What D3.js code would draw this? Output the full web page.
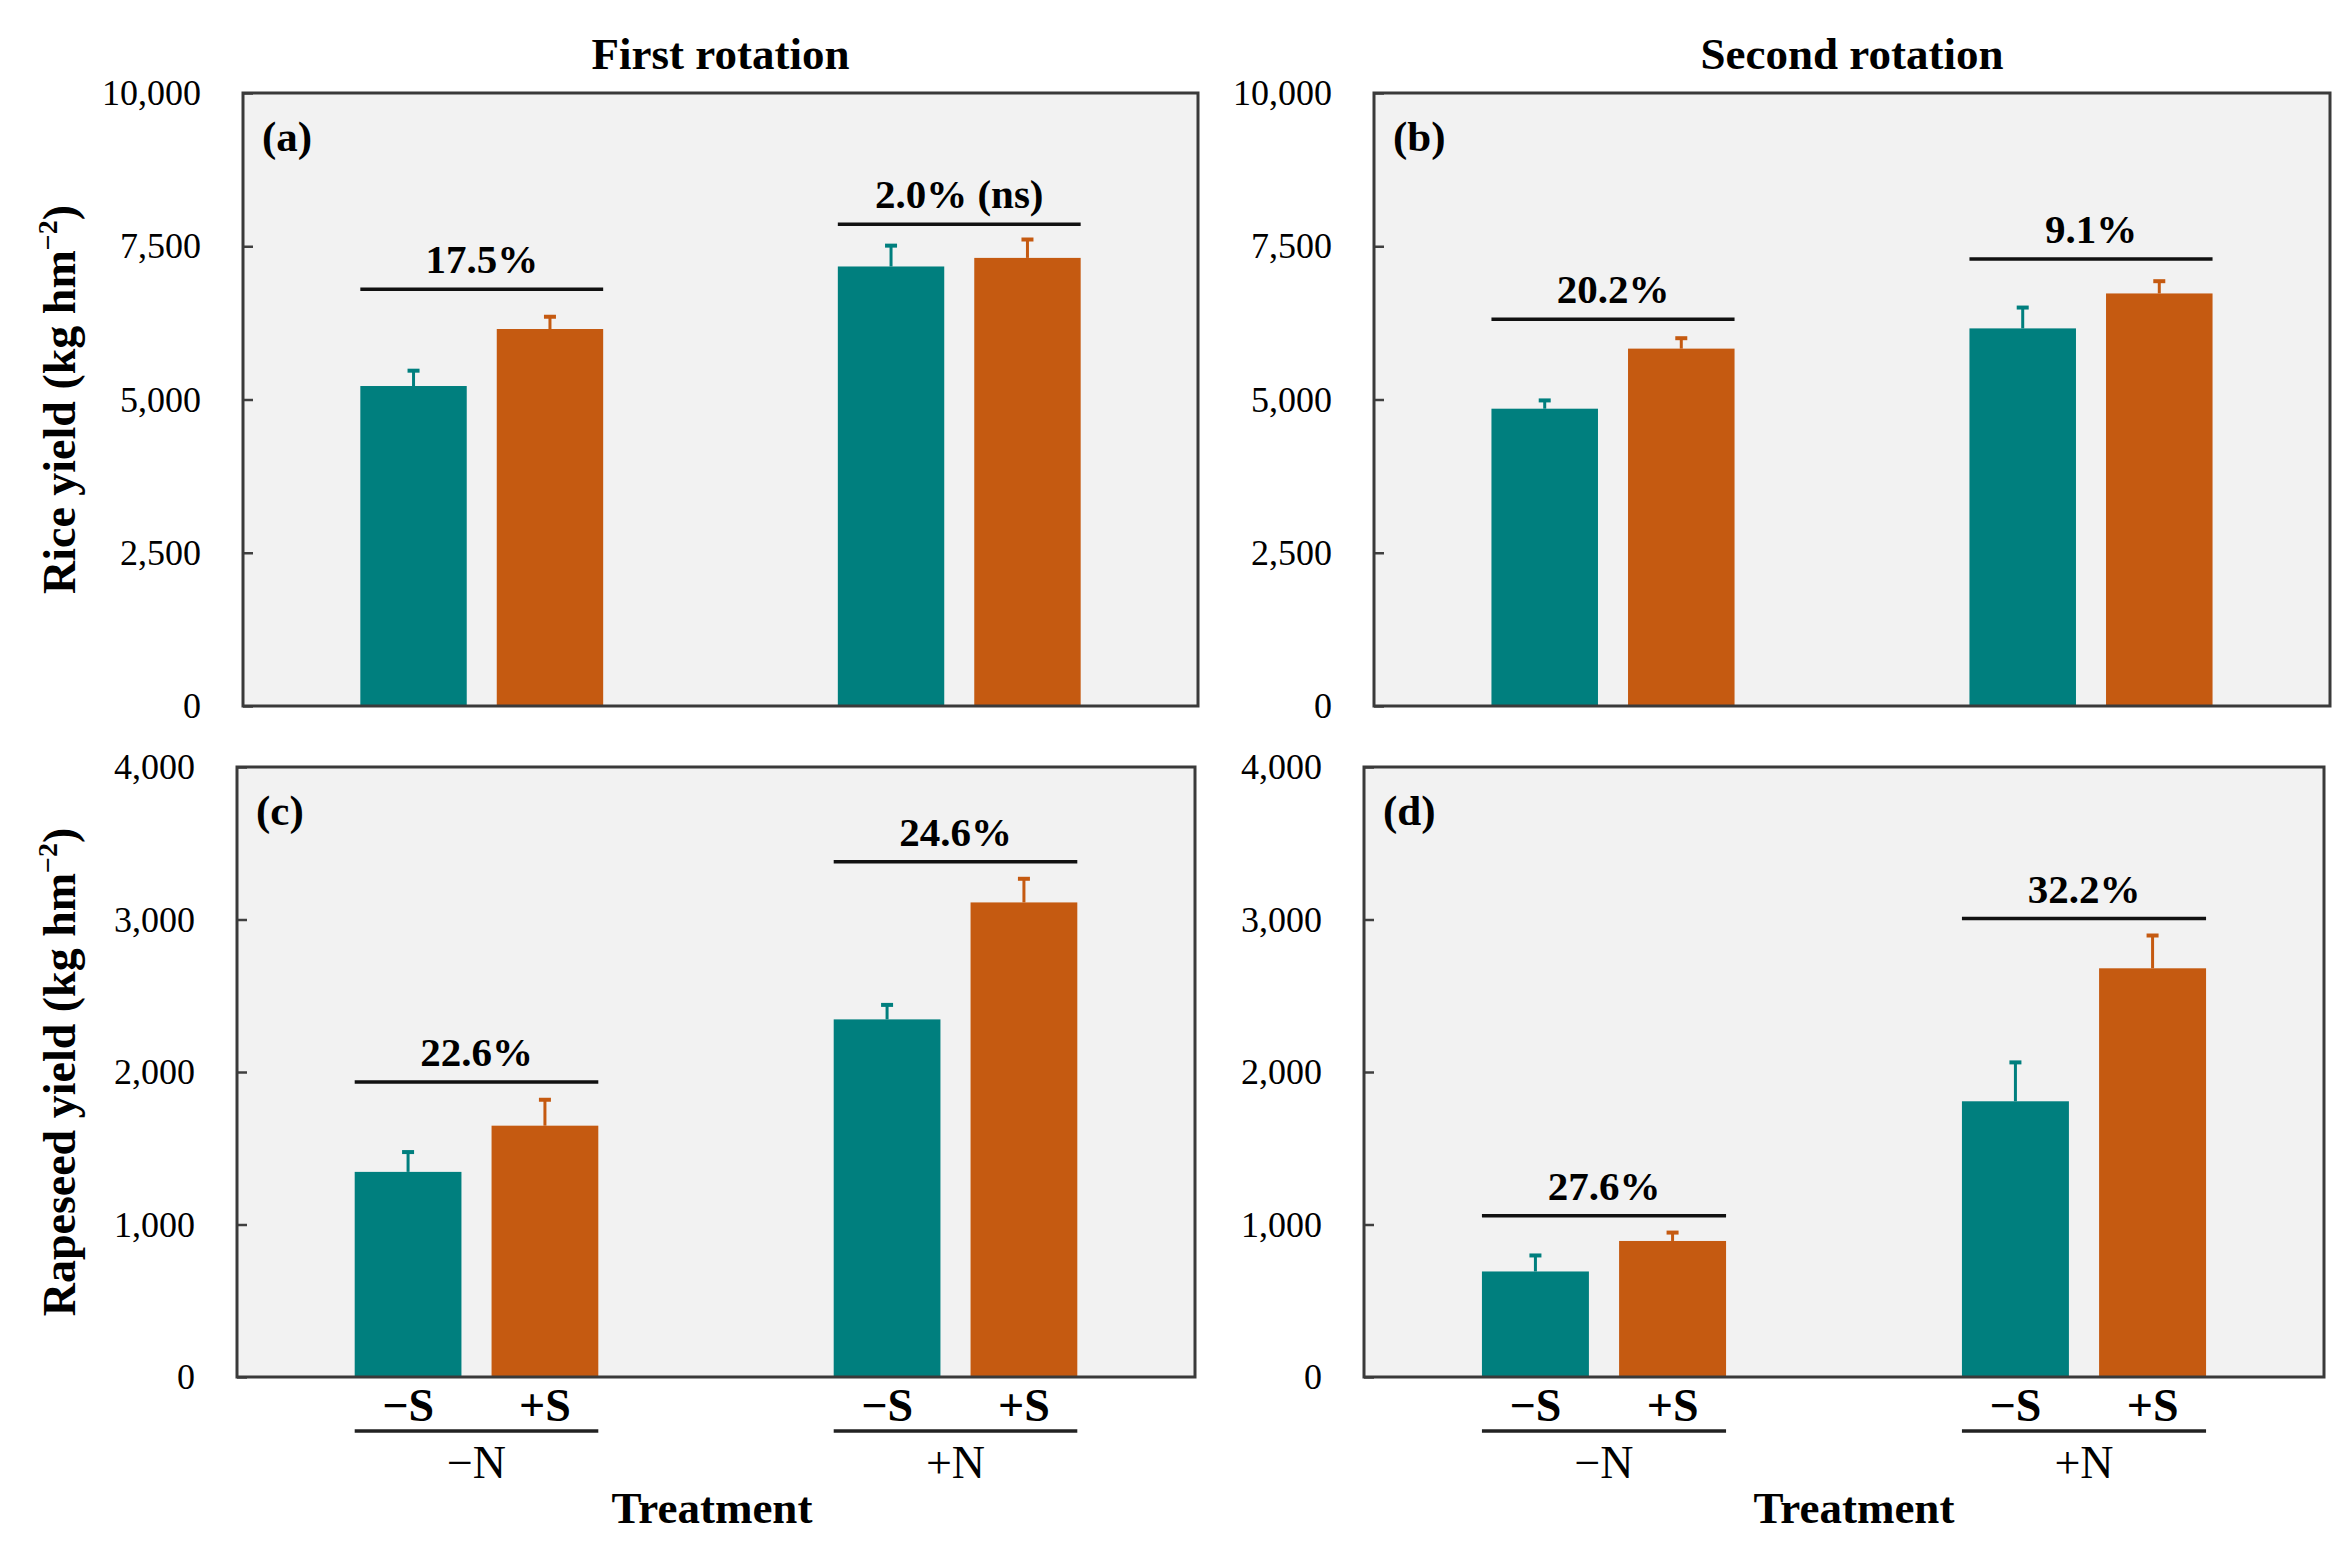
<!DOCTYPE html>
<html>
<head>
<meta charset="utf-8">
<script src="https://cdn.jsdelivr.net/npm/d3@7"></script>
<style>
  body { margin: 0; background: #fff; }
  text { font-family: "Liberation Serif", "Times New Roman", serif; fill: #000; }
</style>
</head>
<body>
<div id="chart"></div>
<script>
var width = 2351, height = 1555;

// data
var nLevels = ["\u2212N", "+N"];
var sLevels = ["\u2212S", "+S"];

var riceR1 = [5220, 6150, 7170, 7310];
var riceR1Err = [250, 200, 340, 300];
var riceR1Pct = ["17.5%", "2.0% (ns)"];
var riceR1Bracket = [6800, 7860];

var riceR2 = [4850, 5830, 6160, 6730];
var riceR2Err = [135, 170, 340, 200];
var riceR2Pct = ["20.2%", "9.1%"];
var riceR2Bracket = [6310, 7290];

var rapeR1 = [1345, 1648, 2345, 3112];
var rapeR1Err = [130, 170, 95, 155];
var rapeR1Pct = ["22.6%", "24.6%"];
var rapeR1Bracket = [1935, 3378];

var rapeR2 = [692, 892, 1808, 2680];
var rapeR2Err = [105, 55, 255, 215];
var rapeR2Pct = ["27.6%", "32.2%"];
var rapeR2Bracket = [1058, 3006];

var riceTicks = [0, 2500, 5000, 7500, 10000];
var rapeTicks = [0, 1000, 2000, 3000, 4000];

var colors = ["#007F7E", "#C55A11"];

// layout of the four panels (xlabX = centre of the "Treatment" label)
var panels = [
  {tag: "(a)", x: 243, y: 93, w: 955, h: 613, max: 10000, ticks: riceTicks, vals: riceR1, err: riceR1Err, pct: riceR1Pct, br: riceR1Bracket, title: "First rotation", ylab: "Rice yield (kg hm", bottom: false},
  {tag: "(b)", x: 1374, y: 93, w: 956, h: 613, max: 10000, ticks: riceTicks, vals: riceR2, err: riceR2Err, pct: riceR2Pct, br: riceR2Bracket, title: "Second rotation", bottom: false},
  {tag: "(c)", x: 237, y: 767, w: 958, h: 610, max: 4000, ticks: rapeTicks, vals: rapeR1, err: rapeR1Err, pct: rapeR1Pct, br: rapeR1Bracket, ylab: "Rapeseed yield (kg hm", bottom: true, xlabX: 712},
  {tag: "(d)", x: 1364, y: 767, w: 960, h: 610, max: 4000, ticks: rapeTicks, vals: rapeR2, err: rapeR2Err, pct: rapeR2Pct, br: rapeR2Bracket, bottom: true, xlabX: 1854}
];

var svg = d3.select("#chart")
            .append("svg")
            .attr("width", width)
            .attr("height", height);

panels.forEach(function(p) {
  var g = svg.append("g").attr("transform", "translate(" + p.x + "," + p.y + ")");

  var x0 = d3.scaleBand().domain(nLevels).range([0, p.w]);
  var x1 = d3.scaleBand().domain(sLevels).range([0, x0.bandwidth()])
             .paddingInner(0.22).paddingOuter(0.86);
  var y = d3.scaleLinear().domain([0, p.max]).range([p.h, 0]);

  // panel background
  g.append("rect")
   .attr("width", p.w).attr("height", p.h)
   .attr("fill", "#F2F2F2");

  // y axis with inner ticks
  var axis = g.append("g")
    .call(d3.axisLeft(y).tickValues(p.ticks).tickSize(-10).tickPadding(42).tickFormat(d3.format(",")));
  axis.select(".domain").remove();
  axis.selectAll("line").attr("stroke", "#404040").attr("stroke-width", 2.5);
  axis.selectAll("text").attr("font-size", 36).attr("font-family", "Liberation Serif").attr("fill", "#111");

  var rows = [];
  nLevels.forEach(function(n, i) {
    sLevels.forEach(function(s, j) {
      rows.push({n: n, s: s, k: j, v: p.vals[i * 2 + j], e: p.err[i * 2 + j]});
    });
  });

  // bars
  g.selectAll(".bar").data(rows).enter().append("rect")
   .attr("x", function(d) { return x0(d.n) + x1(d.s); })
   .attr("y", function(d) { return y(d.v); })
   .attr("width", x1.bandwidth())
   .attr("height", function(d) { return p.h - y(d.v); })
   .attr("fill", function(d) { return colors[d.k]; });

  // error bars (upper only)
  var eb = g.selectAll(".err").data(rows).enter().append("g")
   .attr("stroke", function(d) { return colors[d.k]; })
   .attr("stroke-width", 3);
  eb.append("line")
   .attr("x1", function(d) { return x0(d.n) + x1(d.s) + x1.bandwidth() / 2; })
   .attr("x2", function(d) { return x0(d.n) + x1(d.s) + x1.bandwidth() / 2; })
   .attr("y1", function(d) { return y(d.v); })
   .attr("y2", function(d) { return y(d.v + d.e); });
  eb.append("line")
   .attr("stroke-width", 4)
   .attr("x1", function(d) { return x0(d.n) + x1(d.s) + x1.bandwidth() / 2 - 6; })
   .attr("x2", function(d) { return x0(d.n) + x1(d.s) + x1.bandwidth() / 2 + 6; })
   .attr("y1", function(d) { return y(d.v + d.e); })
   .attr("y2", function(d) { return y(d.v + d.e); });

  // brackets and percentage labels
  nLevels.forEach(function(n, i) {
    var left = x0(n) + x1(sLevels[0]);
    var right = x0(n) + x1(sLevels[1]) + x1.bandwidth();
    g.append("line")
     .attr("x1", left).attr("x2", right)
     .attr("y1", y(p.br[i])).attr("y2", y(p.br[i]))
     .attr("stroke", "#111").attr("stroke-width", 3.5);
    g.append("text")
     .attr("x", (left + right) / 2).attr("y", y(p.br[i]) - 16)
     .attr("text-anchor", "middle")
     .attr("font-size", 41).attr("font-weight", "bold")
     .text(p.pct[i]);
  });

  // border
  g.append("rect")
   .attr("width", p.w).attr("height", p.h)
   .attr("fill", "none").attr("stroke", "#3a3a3a").attr("stroke-width", 3);

  // panel tag
  g.append("text")
   .attr("x", 19).attr("y", 58)
   .attr("font-size", 43).attr("font-weight", "bold")
   .text(p.tag);

  if (p.title) {
    svg.append("text")
       .attr("x", p.x + p.w / 2).attr("y", 69)
       .attr("text-anchor", "middle")
       .attr("font-size", 45).attr("font-weight", "bold")
       .text(p.title);
  }

  if (p.ylab) {
    var yl = svg.append("text")
       .attr("transform", "translate(75," + (p.y + p.h / 2) + ") rotate(-90)")
       .attr("text-anchor", "middle")
       .attr("font-size", 46).attr("font-weight", "bold");
    yl.append("tspan").text(p.ylab);
    yl.append("tspan").attr("font-size", 28).attr("dy", -18).text("\u22122");
    yl.append("tspan").attr("dy", 18).text(")");
  }

  if (p.bottom) {
    rows.forEach(function(d) {
      g.append("text")
       .attr("x", x0(d.n) + x1(d.s) + x1.bandwidth() / 2).attr("y", p.h + 44)
       .attr("text-anchor", "middle")
       .attr("font-size", 46).attr("font-weight", "bold")
       .text(d.s);
    });
    nLevels.forEach(function(n) {
      var left = x0(n) + x1(sLevels[0]);
      var right = x0(n) + x1(sLevels[1]) + x1.bandwidth();
      g.append("line")
       .attr("x1", left).attr("x2", right)
       .attr("y1", p.h + 54).attr("y2", p.h + 54)
       .attr("stroke", "#222").attr("stroke-width", 3.5);
      g.append("text")
       .attr("x", (left + right) / 2).attr("y", p.h + 101)
       .attr("text-anchor", "middle")
       .attr("font-size", 46)
       .text(n);
    });
    svg.append("text")
     .attr("x", p.xlabX).attr("y", p.y + p.h + 146)
     .attr("text-anchor", "middle")
     .attr("font-size", 45).attr("font-weight", "bold")
     .text("Treatment");
  }
});
</script>
</body>
</html>
